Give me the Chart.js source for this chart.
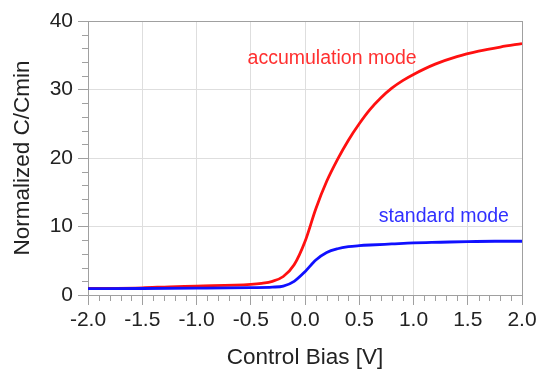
<!DOCTYPE html>
<html>
<head>
<meta charset="utf-8">
<script src="https://cdn.jsdelivr.net/npm/chart.js@4"></script>
<style>
  html, body { margin: 0; padding: 0; background: #fff; }
</style>
</head>
<body>
<canvas id="myChart" width="545" height="372"></canvas>
<script>
// standard mode (blue)
const biasStandard = [-2.0, -1.5, -1.0, -0.5, -0.3, -0.2, -0.1, 0.0, 0.1, 0.2, 0.3, 0.4, 0.5, 0.6, 0.8, 1.0, 1.25, 1.5, 1.75, 2.0];
const capStandard  = [0.92, 0.95, 1.0, 1.08, 1.15, 1.3, 2.0, 3.4, 5.1, 6.2, 6.75, 7.05, 7.2, 7.3, 7.45, 7.6, 7.7, 7.8, 7.85, 7.85];

// accumulation mode (red)
const biasAccum = [-2.0, -1.5, -1.25, -1.0, -0.5, -0.4, -0.3, -0.2, -0.1, 0.0, 0.1, 0.2, 0.3, 0.4, 0.5, 0.6, 0.7, 0.8, 0.9, 1.0, 1.2, 1.4, 1.6, 1.8, 2.0];
const capAccum  = [0.95, 1.05, 1.2, 1.3, 1.55, 1.7, 2.0, 2.7, 4.4, 7.8, 12.6, 16.6, 19.8, 22.6, 25.0, 27.1, 28.8, 30.2, 31.3, 32.2, 33.7, 34.8, 35.6, 36.2, 36.7];

// curve labels, placed in data coordinates
const curveLabels = ['accumulation mode', 'standard mode'];
const curveLabelX = [0.25, 1.28];
const curveLabelY = [34.5, 11.4];
const curveLabelColors = ['#ff3030', '#3030ff'];

const FONT = "'Liberation Sans', Arial, sans-serif";
const AXIS_GRAY = '#a0a0a0';

const toPoints = (xs, ys) => xs.map((x, i) => ({x: x, y: ys[i]}));

// shorter ticks for minor steps + frame + curve labels
const extras = {
  id: 'extras',
  beforeDatasetsDraw(chart) {
    const {ctx, chartArea: a} = chart;
    ctx.save();
    ctx.strokeStyle = AXIS_GRAY;
    ctx.lineWidth = 1;
    ctx.strokeRect(a.left + 0.5, a.top + 0.5, a.right - a.left, a.bottom - a.top);
    ctx.beginPath();
    chart.scales.x.ticks.forEach(t => {
      if (Math.round(t.value * 10) % 5 !== 0) {
        const px = Math.round(chart.scales.x.getPixelForValue(t.value)) + 0.5;
        ctx.moveTo(px, a.bottom);
        ctx.lineTo(px, a.bottom + 6);
      }
    });
    chart.scales.y.ticks.forEach(t => {
      if (t.value % 10 !== 0) {
        const py = Math.round(chart.scales.y.getPixelForValue(t.value)) + 0.5;
        ctx.moveTo(a.left, py);
        ctx.lineTo(a.left - 6, py);
      }
    });
    ctx.stroke();
    ctx.restore();
  },
  afterDatasetsDraw(chart) {
    const {ctx, scales} = chart;
    ctx.save();
    ctx.font = '19.5px ' + FONT;
    ctx.textAlign = 'center';
    ctx.textBaseline = 'middle';
    curveLabels.forEach((txt, i) => {
      ctx.fillStyle = curveLabelColors[i];
      ctx.fillText(txt, scales.x.getPixelForValue(curveLabelX[i]), scales.y.getPixelForValue(curveLabelY[i]));
    });
    ctx.restore();
  }
};

const setup = () => {
  const ctxt = document.getElementById('myChart').getContext('2d');

  new Chart(ctxt, {
    type: 'scatter',
    data: {
      datasets: [{
        label: 'standard mode',
        data: toPoints(biasStandard, capStandard),
        showLine: true,
        borderColor: '#1010ff',
        borderWidth: 2.8,
        pointRadius: 0,
        cubicInterpolationMode: 'monotone'
      }, {
        label: 'accumulation mode',
        data: toPoints(biasAccum, capAccum),
        showLine: true,
        borderColor: '#ff1010',
        borderWidth: 2.8,
        pointRadius: 0,
        cubicInterpolationMode: 'monotone'
      }]
    },
    options: {
      responsive: false,
      animation: false,
      layout: { padding: { left: 0, top: 21, right: 23, bottom: 0 } },
      plugins: { legend: { display: false }, tooltip: { enabled: false } },
      scales: {
        x: {
          type: 'linear',
          min: -2,
          max: 2,
          afterFit: (s) => { s.height = 77; },
          border: { color: AXIS_GRAY, width: 1 },
          grid: {
            color: (c) => Math.round(c.tick.value * 10) % 5 === 0 ? '#dedede' : 'transparent',
            tickColor: (c) => Math.round(c.tick.value * 10) % 5 === 0 ? AXIS_GRAY : 'transparent',
            tickLength: 10
          },
          ticks: {
            stepSize: 0.1,
            autoSkip: false,
            maxRotation: 0,
            padding: 3,
            color: '#222',
            font: { family: FONT, size: 21 },
            callback: (v) => {
              const n = Math.round(v * 10);
              return n % 5 === 0 ? (n / 10).toFixed(1) : '';
            }
          },
          title: {
            display: true,
            text: 'Control Bias [V]',
            color: '#222',
            font: { family: FONT, size: 22.5 },
            padding: { top: 0, bottom: 1 }
          }
        },
        y: {
          min: 0,
          max: 40,
          afterFit: (s) => { s.width = 88; },
          border: { color: AXIS_GRAY, width: 1 },
          grid: {
            color: (c) => c.tick.value % 10 === 0 ? '#dedede' : 'transparent',
            tickColor: (c) => c.tick.value % 10 === 0 ? AXIS_GRAY : 'transparent',
            tickLength: 10
          },
          ticks: {
            stepSize: 2,
            autoSkip: false,
            padding: 5,
            color: '#222',
            font: { family: FONT, size: 21 },
            callback: (v) => v % 10 === 0 ? v : ''
          },
          title: {
            display: true,
            text: 'Normalized C/Cmin',
            color: '#222',
            font: { family: FONT, size: 22.5 },
            padding: { top: 9, bottom: 0 }
          }
        }
      }
    },
    plugins: [extras]
  });
};

window.addEventListener('DOMContentLoaded', setup);
</script>
</body>
</html>
